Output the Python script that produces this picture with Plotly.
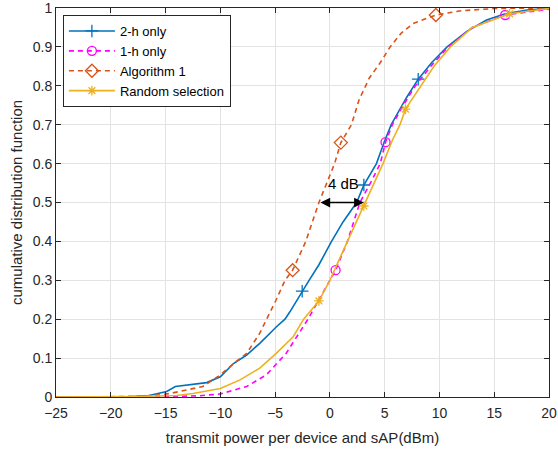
import plotly.graph_objects as go

# ---- data ----
x_2h = [-25, -18, -16.5, -15.8, -14.9, -14.1, -12.5, -11.25, -10.0, -8.8, -7.6, -6.4, -4.9, -4.1, -3.65, -2.53,
        -1.9, -1.0, 0.15, 1.2, 2.44, 3.1, 4.25, 4.95, 5.6, 7.0, 8.06, 9.3, 10.7, 12.5, 14.3, 16, 18, 20]
y_2h = [0, 0.001, 0.004, 0.008, 0.014, 0.027, 0.033, 0.037, 0.052, 0.086, 0.108, 0.138, 0.18, 0.2, 0.219, 0.272,
        0.3, 0.34, 0.4, 0.45, 0.5, 0.545, 0.6, 0.655, 0.7, 0.77, 0.817, 0.86, 0.9, 0.94, 0.969, 0.985, 0.995, 0.999]
mx_2h = [-2.53, 3.1, 8.06]
my_2h = [0.272, 0.545, 0.817]

x_1h = [-25, -16, -12, -10, -7.6, -5.8, -4.0, -2.0, -1.0, 0, 0.52, 1.6, 2.74, 3.7, 4.6, 5.08, 5.7, 6.7, 7.8,
        9.2, 10.8, 13, 16, 20]
y_1h = [0, 0.0, 0.003, 0.008, 0.027, 0.057, 0.112, 0.2, 0.25, 0.3, 0.326, 0.4, 0.5, 0.55, 0.6, 0.655, 0.7, 0.75,
        0.8, 0.85, 0.9, 0.95, 0.982, 0.997]
mx_1h = [0.52, 5.08, 16.0]
my_1h = [0.326, 0.655, 0.982]

x_alg = [-25, -19, -16, -14.6, -13.1, -11.6, -10.0, -8.8, -7.6, -6.4, -4.9, -4.1, -3.4, -2.2, -1.0, 0.43, 1.0,
         1.97, 2.65, 3.6, 4.56, 5.5, 6.5, 7.6, 9.67, 12, 15.2, 20]
y_alg = [0, 0.001, 0.004, 0.009, 0.018, 0.027, 0.057, 0.086, 0.112, 0.164, 0.25, 0.3, 0.326, 0.4, 0.5, 0.6, 0.654,
         0.7, 0.763, 0.82, 0.858, 0.9, 0.935, 0.96, 0.982, 0.993, 0.999, 1.0]
mx_alg = [-3.4, 1.0, 9.67]
my_alg = [0.326, 0.654, 0.982]

x_rnd = [-25, -18, -14, -12.5, -10, -8.2, -6.4, -4.9, -3.35, -2.4, -1.0, 0, 1.6, 3.1, 4.85, 5.7, 6.4, 6.9, 8.3,
         9.5, 11, 13, 16.4, 20]
y_rnd = [0, 0.001, 0.004, 0.009, 0.022, 0.044, 0.074, 0.112, 0.155, 0.2, 0.247, 0.3, 0.4, 0.491, 0.6, 0.66, 0.7,
         0.74, 0.8, 0.85, 0.9, 0.95, 0.985, 0.999]
mx_rnd = [-1.0, 3.1, 6.9, 16.4]
my_rnd = [0.247, 0.491, 0.74, 0.985]

names = ["2-h only", "1-h only", "Algorithm 1", "Random selection"]
x_ticks = [-25, -20, -15, -10, -5, 0, 5, 10, 15, 20]
y_ticks = [0, 0.1, 0.2, 0.3, 0.4, 0.5, 0.6, 0.7, 0.8, 0.9, 1]
y_tick_text = ["0", "0.1", "0.2", "0.3", "0.4", "0.5", "0.6", "0.7", "0.8", "0.9", "1"]

arrow_from = (-1.0, 0.5)
arrow_to = (3.1, 0.5)
arrow_label = "4 dB"

# ---- styles ----
BLUE = "#0072BD"
MAG = "#FF00FF"
ORG = "#D95319"
YEL = "#EDB120"
DASH = "5px,4px"

series = [
    (names[0], x_2h, y_2h, mx_2h, my_2h, BLUE, "solid", "cross-thin", 9),
    (names[1], x_1h, y_1h, mx_1h, my_1h, MAG, DASH, "circle-open", 9),
    (names[2], x_alg, y_alg, mx_alg, my_alg, ORG, DASH, "diamond-open", 10),
    (names[3], x_rnd, y_rnd, mx_rnd, my_rnd, YEL, "solid", "asterisk-open", 8),
]

fig = go.Figure()
for name, xs, ys, mxs, mys, col, dash, sym, ms in series:
    fig.add_trace(go.Scatter(x=xs, y=ys, mode="lines", line=dict(color=col, width=1.6, dash=dash),
                             showlegend=False, hoverinfo="skip"))
    fig.add_trace(go.Scatter(x=mxs, y=mys, mode="markers",
                             marker=dict(symbol=sym, size=ms, color=col, line=dict(color=col, width=1.3)),
                             showlegend=False))
    fig.add_trace(go.Scatter(x=[None], y=[None], mode="lines+markers", name=name,
                             line=dict(color=col, width=1.6, dash=dash),
                             marker=dict(symbol=sym, size=ms, color=col, line=dict(color=col, width=1.3))))

fig.add_annotation(x=arrow_to[0], y=arrow_to[1], ax=arrow_from[0], ay=arrow_from[1],
                   xref="x", yref="y", axref="x", ayref="y", text="", showarrow=True,
                   arrowhead=2, startarrowhead=2, arrowside="end+start", arrowsize=1.3,
                   startarrowsize=1.3, arrowwidth=1.5, arrowcolor="black", standoff=0, startstandoff=0)
fig.add_annotation(x=(arrow_from[0] + arrow_to[0]) / 2 + 0.2, y=0.548, xref="x", yref="y", text=arrow_label,
                   showarrow=False, font=dict(size=15, color="black"))

axis_common = dict(showgrid=True, gridcolor="#e3e3e3", gridwidth=1, showline=True, linecolor="#262626",
                   linewidth=1, mirror="ticks", ticks="inside", ticklen=5, tickcolor="#262626", zeroline=False,
                   tickfont=dict(size=14, color="#262626"), automargin=False, ticklabeloverflow="allow")

fig.update_layout(
    width=558, height=450,
    margin=dict(l=56, r=9, t=8, b=53, autoexpand=False),
    paper_bgcolor="white", plot_bgcolor="white",
    font=dict(family="Liberation Sans, Arial, Helvetica, sans-serif", color="#262626"),
    xaxis=dict(range=[-25, 20], tickvals=x_ticks, ticklabelstandoff=3,
               title=dict(text="transmit power per device and sAP(dBm)", font=dict(size=15), standoff=12),
               **axis_common),
    yaxis=dict(range=[0, 1], tickvals=y_ticks, ticktext=y_tick_text,
               title=dict(text="cumulative distribution function", font=dict(size=15), standoff=6),
               **axis_common),
    legend=dict(x=0.014, y=0.982, xanchor="left", yanchor="top", bgcolor="white", bordercolor="#262626",
                borderwidth=1, font=dict(size=13, color="black"), tracegroupgap=0, itemwidth=46),
    showlegend=True,
)

fig.write_html("out.html", config={"displayModeBar": False},
               post_script="document.body.style.margin='0';")
